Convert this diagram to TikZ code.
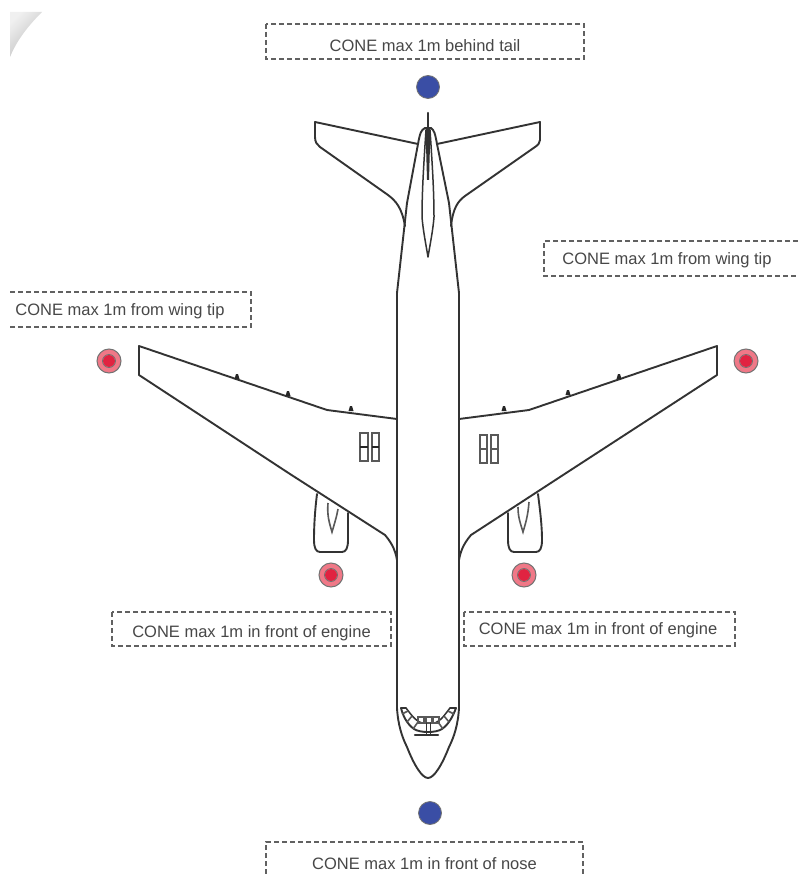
\documentclass[tikz,border=0pt]{standalone}
\usepackage{fontspec}
\setmainfont{Liberation Sans}
\definecolor{conebluecol}{RGB}{58,78,165}
\definecolor{coneredcol}{RGB}{240,120,135}
\definecolor{conecorecol}{RGB}{225,35,65}
\begin{document}
\begin{tikzpicture}[x=1pt,y=-1pt,
  plane/.style={draw=black!80,line width=1.9pt,line join=round,line cap=round},
  thinp/.style={draw=black!65,line width=1.2pt},
  dashbox/.style={draw=black!62,line width=1.1pt,dash pattern=on 5pt off 3pt,fill=white},
  lab/.style={font=\fontsize{16.5}{18}\selectfont,text=black!72,inner sep=0pt,anchor=center},
  bluedot/.style={circle,fill=conebluecol,draw=black!55,line width=0.8pt,minimum size=23pt,inner sep=0pt},
  reddot/.style={circle,fill=coneredcol,draw=black!55,line width=1pt,minimum size=24pt,inner sep=0pt,
    path picture={\fill[conecorecol] (path picture bounding box.center) circle (6pt);
    \draw[black!55,line width=0.8pt] (path picture bounding box.center) circle (6.5pt);}}]
\useasboundingbox (0,0) rectangle (798,874);
\fill[white] (0,0) rectangle (798,874);
% page corner
\shade[left color=black!6,right color=black!26,shading angle=45]
  (10,12) -- (42,12) .. controls (28,26) and (17,40) .. (10,57) -- cycle;
% boxes
\draw[dashbox] (266,24) rectangle (584,59);
\draw[dashbox] (798,241) -- (544,241) -- (544,276) -- (798,276);
\draw[dashbox] (10,292) -- (251,292) -- (251,327) -- (10,327);
\draw[dashbox] (112,612) rectangle (391,646);
\draw[dashbox] (464,612) rectangle (735,646);
\draw[dashbox] (266,874) -- (266,842) -- (583,842) -- (583,874);
\node[lab] (t1) at (425,46) {CONE max 1m behind tail};
\node[lab] (t2) at (667,260.5) {CONE max 1m from wing tip};
\node[lab] (t3) at (120,311.5) {CONE max 1m from wing tip};
\node[lab] (t4) at (251.5,633.5) {CONE max 1m in front of engine};
\node[lab] (t5) at (598,630.5) {CONE max 1m in front of engine};
\node[lab] (t6) at (424.5,864) {CONE max 1m in front of nose};
% cones
\node[bluedot] (c1) at (428,87) {};
\node[bluedot] (c2) at (430,813) {};
\node[reddot] (c3) at (109,361) {};
\node[reddot] (c4) at (746,361) {};
\node[reddot] (c5) at (331,575) {};
\node[reddot] (c6) at (524,575) {};
% engines
\draw[plane] (317,494) .. controls (315,510) and (314,525) .. (314,540) .. controls (314,548) and (316,552) .. (320,552) -- (342,552) .. controls (346,552) and (348,548) .. (348,540) -- (348,513);
\draw[plane] (538,494) .. controls (540,510) and (542,525) .. (542,540) .. controls (542,548) and (540,552) .. (536,552) -- (514,552) .. controls (510,552) and (508,548) .. (508,540) -- (508,513);
\draw[thinp,line width=1.6pt] (328,503) .. controls (327,515) and (329,522) .. (332,532) .. controls (335,522) and (337,515) .. (338,509);
\draw[thinp,line width=1.6pt] (518,507) .. controls (518,517) and (520,522) .. (523,532) .. controls (526,522) and (528,515) .. (529,502);
% wings
\draw[plane] (397,419) -- (327,410) -- (139,346) -- (139,375) -- (290,474) -- (385,535) .. controls (390,541) and (395,548) .. (397,560);
\draw[plane] (459,419) -- (529,410) -- (717,346) -- (717,375) -- (560,477) -- (471,535) .. controls (466,541) and (461,548) .. (459,560);
% flap fairings
\foreach \x/\y in {237/379,288/396,351/411,504/411,568/395,619/379}
  \fill[black!85] (\x-2.5,\y) -- (\x-1,\y-5) -- (\x+1,\y-5) -- (\x+2.5,\y) -- cycle;
% hatches
\draw[thinp] (360,433) rectangle (368,461) (372,433) rectangle (379,461);
\draw[thinp,black!85] (360,447) -- (368,447) (372,447) -- (379,447);
\draw[thinp] (480,435) rectangle (487,463) (491,435) rectangle (498,463);
\draw[thinp] (480,449) -- (487,449) (491,449) -- (498,449);
% stabilisers
\draw[plane] (418,144) -- (315,122) -- (315,137) .. controls (315,142) and (317,145) .. (320,147) -- (388,195) .. controls (396,201) and (402,208) .. (405,226);
\draw[plane] (437,144) -- (540,122) -- (540,140) .. controls (540,143) and (538,145) .. (535,147) -- (465,196) .. controls (458,201) and (453,208) .. (451,226);
% fuselage
\draw[plane] (425,128) .. controls (421,130) and (420,133) .. (418,144) -- (407,203) -- (397,293) -- (397,708) .. controls (398,725) and (402,737) .. (407,747) .. controls (414,765) and (422,778) .. (428,778) .. controls (434,778) and (442,765) .. (449,747) .. controls (454,737) and (458,725) .. (459,708) -- (459,293) -- (449,203) -- (437,144) .. controls (435,133) and (434,130) .. (431,128) -- (425,128);
\draw[plane,line width=2.4pt] (428,113) -- (428,130);
% fin
\draw[plane,line width=1.5pt] (426,130) .. controls (424,160) and (422,190) .. (422,217) .. controls (423,230) and (426,245) .. (428,257) .. controls (430,245) and (433,230) .. (434,217) .. controls (434,190) and (432,160) .. (430,130);
\fill[black!80] (425.5,128) -- (430.5,128) -- (429,180) -- (427,180) -- cycle;
% cockpit
\draw[plane] (401,708) -- (406,708) (450,708) -- (456,708);
\draw[plane] (401,708) .. controls (403,716) and (407,724) .. (414,729) .. controls (420,733) and (436,733) .. (442,729) .. controls (449,724) and (453,716) .. (456,708);
\draw[plane,line width=1.5pt] (406,708) .. controls (410,713) and (415,721) .. (422,723) -- (435,723) .. controls (441,721) and (446,713) .. (450,708);
\draw[thinp,line width=1.6pt] (402,714) -- (408,711) (407,722) -- (412,716) (413,729) -- (418,722) (443,729) -- (438,722) (449,722) -- (444,716) (454,714) -- (448,711);
\draw[thinp] (418,717) rectangle (424,723) (426,717) rectangle (432,723) (433,717) rectangle (439,723);
\draw[plane,line width=2.2pt] (415,735) -- (438,735);
\draw[plane,line width=1.4pt] (426.5,723) -- (426.5,735) (430.5,723) -- (430.5,735);
\end{tikzpicture}
\end{document}
